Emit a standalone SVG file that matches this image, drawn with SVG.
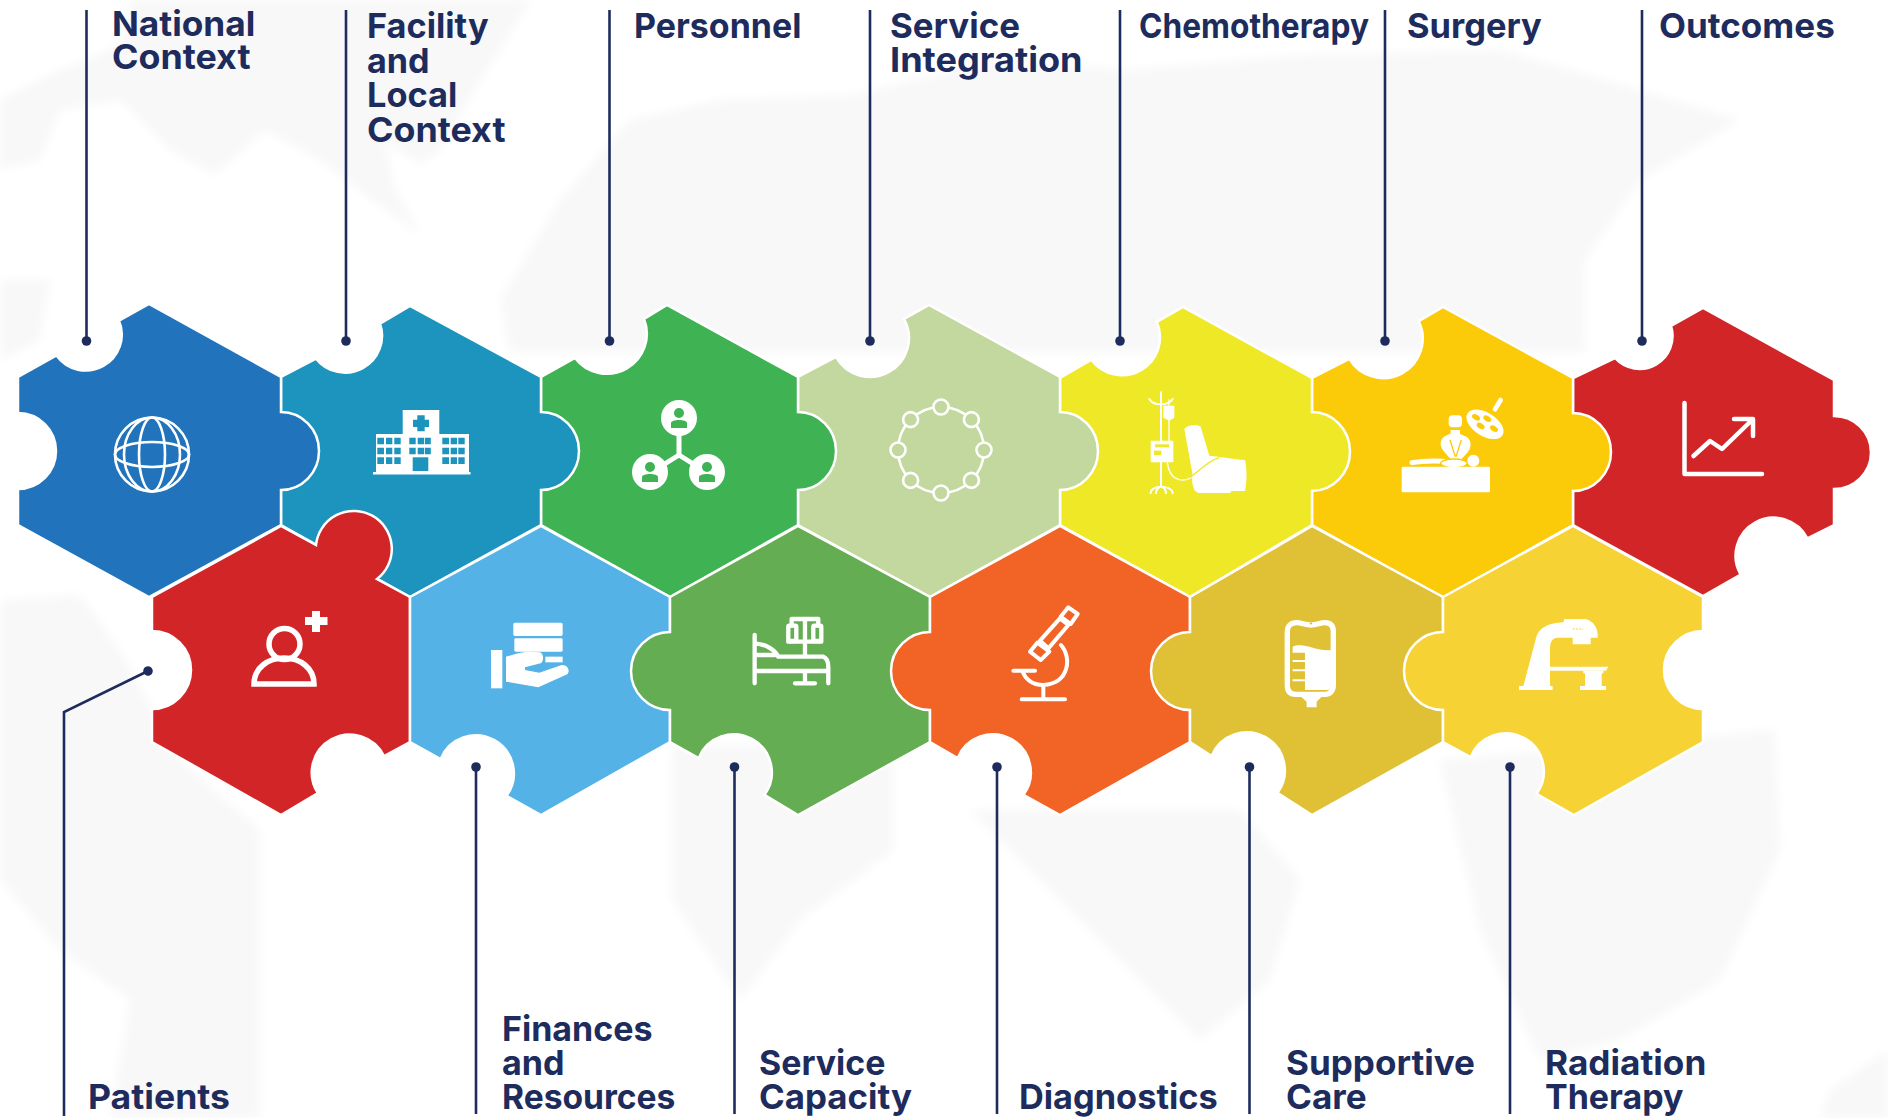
<svg xmlns="http://www.w3.org/2000/svg" width="1888" height="1118" viewBox="0 0 1888 1118">
<style>
.hex{stroke:#fff;stroke-width:2.5;stroke-linejoin:miter}
.f{fill:#fff}
.s{fill:none;stroke:#fff;stroke-linecap:round;stroke-linejoin:round}
.lab{font-family:"Inter","Liberation Sans",sans-serif;font-weight:700;font-size:34.5px;fill:#1d2c5c}
.c{fill:none;stroke:#1d2c5c;stroke-width:2.6;marker-end:url(#dot)}
.map{fill:#f8f8f9}
</style>
<defs>
<marker id="dot" markerUnits="userSpaceOnUse" markerWidth="12" markerHeight="12" refX="6" refY="6" orient="auto"><circle cx="6" cy="6" r="4.8" fill="#1d2c5c"/></marker>
<filter id="soft" x="-5%" y="-5%" width="110%" height="110%"><feGaussianBlur stdDeviation="5"/></filter>
</defs>
<rect width="1888" height="1118" fill="#fff"/>
<g id="world-map" filter="url(#soft)">
<path class="map" d="M0,100 L60,70 L120,45 L130,0 L530,0 L500,50 L475,90 L440,150 L420,165 L385,140 L395,190 L420,235 L365,195 L320,160 L265,130 L215,175 L170,150 L120,100 L60,110 L40,160 L0,170 Z"/>
<path class="map" d="M0,280 L50,280 L40,340 L0,360 Z"/>
<path class="map" d="M630,120 L720,100 L850,95 L1000,60 L1130,70 L1300,55 L1500,50 L1640,90 L1740,120 L1640,180 L1585,260 L1585,352 L1000,352 L620,352 L510,352 L500,300 L560,200 Z"/>
<path class="map" d="M0,600 L80,595 L120,650 L180,760 L260,830 L260,1118 L110,1118 L130,1000 L60,950 L0,880 Z"/>
<path class="map" d="M672,745 L893,745 L893,850 L800,920 L740,1000 L672,900 Z"/>
<path class="map" d="M970,810 L1240,810 L1300,880 L1270,980 L1200,1040 L1130,970 L1060,900 Z"/>
<path class="map" d="M1440,760 L1775,730 L1780,850 L1720,980 L1620,1040 L1540,1060 L1480,930 Z"/>
<path class="map" d="M1830,1090 L1888,1050 L1888,1118 L1820,1118 Z"/>
</g>

<g id="outcomes">
<path class="hex" fill="#d22527" d="M1573,378 L1615,358 A33,33 0 0 0 1671,326 L1703,308 L1834,380 L1834,416 A37,36.5 0 0 1 1834,489 L1834,525 L1807.4,538.4 A38,38 0 1 0 1740.6,574.6 L1703,596 L1573,525 Z"/>
<path class="s" stroke-width="4.5" d="M1684.5,403 V474 H1762"/>
<path class="s" stroke-width="4.5" d="M1693.5,456 L1710,441 L1722,449 L1752,420 M1734,419 H1753 V436"/>
<text class="lab" x="1659" y="38" textLength="175.8" lengthAdjust="spacingAndGlyphs">Outcomes</text>
</g>
<g id="surgery">
<path class="hex" fill="#fbcb0a" d="M1312,378 L1349.3,358.8 A39.5,39.5 0 0 0 1418.7,321.2 L1443,307 L1573,378 L1573,413 A38,39 0 0 1 1573,491 L1573,525 L1443,598 L1312,525 Z"/>
<g transform="translate(1390,390) scale(.3333)">
<path class="s" stroke-width="14" d="M315,58 L332,30"/>
<ellipse class="f" cx="285" cy="103" rx="62" ry="35" transform="rotate(32 285 103)"/>
<g fill="#fbcb0a"><ellipse cx="258" cy="82" rx="13" ry="8" transform="rotate(32 258 82)"/><ellipse cx="292" cy="86" rx="13" ry="8" transform="rotate(32 292 86)"/><ellipse cx="272" cy="108" rx="13" ry="8" transform="rotate(32 272 108)"/><ellipse cx="312" cy="116" rx="13" ry="8" transform="rotate(32 312 116)"/></g>
<rect class="f" x="176" y="76" width="40" height="36" rx="12"/>
<path class="f" d="M182,120 H210 V132 L232,142 C246,155 244,175 232,188 L212,210 H184 L160,182 C148,165 150,150 162,140 L182,130 Z"/>
<path d="M180,150 L196,200 M214,150 L198,200" fill="none" stroke="#fbcb0a" stroke-width="4"/>
<path class="s" stroke-width="15" d="M66,218 C100,212 130,212 160,214"/>
<ellipse class="f" cx="192" cy="220" rx="40" ry="13" stroke="#fbcb0a" stroke-width="4"/>
<circle class="f" cx="250" cy="212" r="18"/>
<rect class="f" x="35" y="230" width="265" height="77" rx="4"/>
</g>
<text class="lab" x="1407" y="38" textLength="134.8" lengthAdjust="spacingAndGlyphs">Surgery</text>
</g>
<g id="chemotherapy">
<path class="hex" fill="#efe827" d="M1060,378 L1091.4,359.7 A38,38 0 0 0 1156.8,321.9 L1183,307 L1312,378 L1312,412 A38,39.5 0 0 1 1312,491 L1312,525 L1190,597 L1060,525 Z"/>
<g transform="translate(1130,385) scale(.3333)">
<path class="s" stroke-width="6" d="M93,22 V305 M58,42 C65,55 80,58 93,58 C106,58 120,55 128,42 M62,325 C62,310 80,305 93,305 C106,305 128,310 128,325 M78,325 C78,315 85,305 93,305 C101,305 108,315 108,325"/>
<path class="s" stroke-width="4" d="M117,45 V60 M117,105 V170 M112,232 C118,290 165,300 200,265"/>
<path class="f" d="M100,62 L133,62 V98 L118,107 L100,98 Z"/>
<rect class="f" x="62" y="167" width="68" height="65" rx="3"/>
<rect x="75" y="178" width="42" height="9" fill="#efe827"/><rect x="72" y="197" width="22" height="13" fill="#efe827"/>
<path class="f" d="M163,132 C170,120 200,115 212,125 L238,212 C275,215 310,222 345,225 C352,255 350,295 345,318 L305,318 L300,324 L205,324 L195,318 C186,300 185,285 188,270 Z"/>
<path d="M180,278 C215,250 240,225 268,218" fill="none" stroke="#efe827" stroke-width="4"/>
</g>
<text class="lab" x="1139" y="38" textLength="230" lengthAdjust="spacingAndGlyphs">Chemotherapy</text>
</g>
<g id="service-integration">
<path class="hex" fill="#c3d89f" d="M798,377 L836,357 A37,37 0 0 0 904,319 L929,305 L1060,377 L1060,412 A38,39 0 0 1 1060,490 L1060,525 L930,597 L798,525 Z"/>
<circle class="s" cx="941" cy="450" r="43" stroke-width="2.5"/>
<g fill="#c3d89f" stroke="#fff" stroke-width="2.6">
<circle cx="941" cy="407" r="7.5"/><circle cx="971.4" cy="419.6" r="7.5"/><circle cx="984" cy="450" r="7.5"/><circle cx="971.4" cy="480.4" r="7.5"/><circle cx="941" cy="493" r="7.5"/><circle cx="910.6" cy="480.4" r="7.5"/><circle cx="898" cy="450" r="7.5"/><circle cx="910.6" cy="419.6" r="7.5"/>
</g>
<text class="lab" x="890" y="38" textLength="130" lengthAdjust="spacingAndGlyphs">Service</text>
<text class="lab" x="890" y="72" textLength="192.6" lengthAdjust="spacingAndGlyphs">Integration</text>
</g>
<g id="personnel">
<path class="hex" fill="#3fb254" d="M541,377 L575,358 A40,40 0 0 0 644,319 L667,305 L798,377 L798,412 A38,39 0 0 1 798,490 L798,525 L670,597 L541,525 Z"/>
<path class="s" stroke-width="5" d="M679,430 V455 L655,470 M679,455 L703,470"/>
<g class="f"><circle cx="679" cy="418" r="18"/><circle cx="650" cy="472" r="18"/><circle cx="707" cy="472" r="18"/></g>
<g fill="#3fb254">
<circle cx="679" cy="413" r="5"/><path d="M671,428 V423 C671,419 687,419 687,423 V428 Z"/>
<circle cx="650" cy="467" r="5"/><path d="M642,482 V477 C642,473 658,473 658,477 V482 Z"/>
<circle cx="707" cy="467" r="5"/><path d="M699,482 V477 C699,473 715,473 715,477 V482 Z"/>
</g>
<text class="lab" x="634" y="38" textLength="167.4" lengthAdjust="spacingAndGlyphs">Personnel</text>
</g>
<g id="facility-local-context">
<path class="hex" fill="#1c94be" d="M281,377 L316,358.6 A37,37 0 0 0 380,323.6 L410,306 L541,377 L541,412 A38,39 0 0 1 541,490 L541,525 L410,597 L281,525 Z"/>
<path class="f" d="M402.7,410 H439.3 V434 H469 V472 H470.5 V474.5 H373 V472 H376 V434 H402.7 Z"/>
<g fill="#1c94be">
<path d="M417.3,415.3 H424.7 V419.7 H429 V427 H424.7 V431.3 H417.3 V427 H413 V419.7 H417.3 Z"/>
<path d="M377.3,437.7h6.7v6.6h-6.7zM386,437.7h6.3v6.6H386zM394.3,437.7h6.4v6.6h-6.4zM377.3,447.7h6.7v6.6h-6.7zM386,447.7h6.3v6.6H386zM394.3,447.7h6.4v6.6h-6.4zM377.3,457.3h6.7V464h-6.7zM386,457.3h6.3V464H386zM394.3,457.3h6.4V464h-6.4z"/>
<path d="M409.3,437.7h6.4v6.6h-6.4zM417.7,437.7h6.3v6.6h-6.3zM424.8,437.7h6v6.6h-6zM409.3,447.7h6.4v6.6h-6.4zM417.7,447.7h6.3v6.6h-6.3zM424.8,447.7h6v6.6h-6z"/>
<path d="M442.3,437.7h6.7v6.6h-6.7zM450.7,437.7h6.3v6.6h-6.3zM458.3,437.7h6.4v6.6h-6.4zM442.3,447.7h6.7v6.6h-6.7zM450.7,447.7h6.3v6.6h-6.3zM458.3,447.7h6.4v6.6h-6.4zM442.3,457.3h6.7V464h-6.7zM450.7,457.3h6.3V464h-6.3zM458.3,457.3h6.4V464h-6.4z"/>
<rect x="412.7" y="457.3" width="15.6" height="13.7"/>
</g>
<text class="lab" x="367" y="38" textLength="121.6" lengthAdjust="spacingAndGlyphs">Facility</text>
<text class="lab" x="367" y="72.5" textLength="62.6" lengthAdjust="spacingAndGlyphs">and</text>
<text class="lab" x="367" y="107" textLength="90.3" lengthAdjust="spacingAndGlyphs">Local</text>
<text class="lab" x="367" y="141.5" textLength="138.5" lengthAdjust="spacingAndGlyphs">Context</text>
</g>
<g id="national-context">
<path class="hex" fill="#2174bb" d="M18,377 L56.5,355.5 A36,36 0 0 0 119,320.7 L149,304 L281,377 L281,412 A38,39 0 0 1 281,490 L281,525 L149,597 L18,525 L18,489 A38,38 0 0 0 18,413 Z"/>
<g class="s" stroke-width="2.6">
<circle cx="152" cy="454.5" r="37"/><ellipse cx="152" cy="454.5" rx="13" ry="37"/><ellipse cx="152" cy="454.5" rx="28" ry="37"/><ellipse cx="152" cy="454.5" rx="37" ry="12.5"/>
</g>
<text class="lab" x="112" y="36" textLength="143.3" lengthAdjust="spacingAndGlyphs">National</text>
<text class="lab" x="112" y="69" textLength="138.5" lengthAdjust="spacingAndGlyphs">Context</text>
</g>

<g id="patients">
<path class="hex" fill="#d22527" d="M152,597 L281,526 L316,545 A38,38 0 1 1 377,579 L410,597 L410,742 L384.1,756.2 A38,38 0 1 0 317.9,793.2 L281,815 L152,742 L152,709 A39,39 0 0 0 152,631 Z"/>
<circle class="s" cx="284.5" cy="644" r="15.5" stroke-width="5.5"/>
<path class="s" stroke-width="5.5" d="M254,684 H314 C314,668 300,658 284,658 C268,658 254,668 254,684 Z" style="stroke-linejoin:miter"/>
<path class="f" d="M312,611 H320 V617 H327.5 V625 H320 V632 H312 V625 H305 V617 H312 Z"/>
<text class="lab" x="88" y="1109" textLength="142" lengthAdjust="spacingAndGlyphs">Patients</text>
</g>
<g id="finances-resources">
<path class="hex" fill="#55b2e6" d="M410,597 L541,526 L670,597 L670,742 L541,815 L506.4,795.9 A38,38 0 1 0 440.6,759.1 L410,742 Z"/>
<g transform="translate(480,605) scale(.3333)">
<rect class="f" x="100" y="53" width="148" height="40" rx="5"/><rect class="f" x="103" y="100" width="145" height="40" rx="4"/><rect class="f" x="196" y="155" width="52" height="17"/>
<rect class="f" x="33" y="135" width="34" height="115"/>
<path class="f" d="M78,155 C100,150 120,140 150,140 L180,142 C192,146 192,170 182,175 L135,187 L135,195 L178,203 L245,180 C262,178 272,196 262,208 L175,247 L78,230 Z"/>
</g>
<text class="lab" x="502" y="1040.5" textLength="150.5" lengthAdjust="spacingAndGlyphs">Finances</text>
<text class="lab" x="502" y="1075" textLength="62.6" lengthAdjust="spacingAndGlyphs">and</text>
<text class="lab" x="502" y="1109" textLength="173.4" lengthAdjust="spacingAndGlyphs">Resources</text>
</g>
<g id="service-capacity">
<path class="hex" fill="#64ad52" d="M670,597 L798,526 L930,597 L930,742 L798,815 L764.4,794.9 A38,38 0 1 0 698.6,758.1 L670,742 L670,710 A39,39 0 0 1 670,632 Z"/>
<g class="s" stroke-width="13" transform="translate(480,605) scale(.3333)">
<path d="M824,90 V235 M824,115 C860,118 885,135 895,155 H1030 C1042,160 1045,170 1045,185 V235 M824,150 H885 M824,198 H1045 M975,198 V235 M945,235 H1005 M975,155 V42 M935,62 V42 H1015 V62"/>
<rect x="925" y="62" width="24" height="46" rx="3"/><rect x="1000" y="62" width="24" height="46" rx="3"/><path d="M925,110 H1024"/>
</g>
<text class="lab" x="759" y="1075" textLength="126.4" lengthAdjust="spacingAndGlyphs">Service</text>
<text class="lab" x="759" y="1109" textLength="153" lengthAdjust="spacingAndGlyphs">Capacity</text>
</g>
<g id="diagnostics">
<path class="hex" fill="#f16426" d="M930,597 L1060,526 L1190,597 L1190,742 L1060,815 L1023.4,794.9 A38,38 0 1 0 957.6,758.1 L930,742 L930,710 A39,39 0 0 1 930,632 Z"/>
<g class="s" stroke-width="12" transform="translate(1000,600) scale(.3333)">
<path d="M205,22 L233,42 L212,72 L182,50 Z M180,55 L205,75 L145,145 L120,122 Z M112,128 L148,155 L122,180 L90,155 Z"/>
<path d="M183,135 C215,170 210,250 130,255 C95,255 75,235 68,215 M40,212 H105 M130,255 V298 M65,298 H195"/>
</g>
<text class="lab" x="1019" y="1109" textLength="198.7" lengthAdjust="spacingAndGlyphs">Diagnostics</text>
</g>
<g id="supportive-care">
<path class="hex" fill="#e0c136" d="M1190,597 L1312,526 L1443,597 L1443,742 L1312,815 L1277.4,792.9 A38,38 0 1 0 1211.6,756.1 L1190,742 L1190,710 A39,39 0 0 1 1190,632 Z"/>
<g transform="translate(1000,600) scale(.3333)">
<path class="s" stroke-width="16" d="M890,68 C905,68 915,75 933,75 C951,75 960,68 975,68 C993,68 1000,78 1000,95 V255 C1000,273 990,283 975,283 H887 C870,283 862,273 862,255 V95 C862,78 872,68 890,68 Z"/>
<circle cx="933" cy="70" r="3.5" fill="#e0c136"/>
<path class="f" d="M878,140 C910,125 950,155 993,150 V260 C993,268 988,270 980,270 H915 V244 H878 V238 H915 V214 H878 V208 H915 V186 H878 V180 H915 V158 H878 Z"/>
<path class="f" d="M903,290 H965 L950,305 V322 H920 V305 Z"/>
</g>
<text class="lab" x="1286" y="1075" textLength="189" lengthAdjust="spacingAndGlyphs">Supportive</text>
<text class="lab" x="1286" y="1109" textLength="80.7" lengthAdjust="spacingAndGlyphs">Care</text>
</g>
<g id="radiation-therapy">
<path class="hex" fill="#f6d234" d="M1443,597 L1573,526 L1703,597 L1703,631 A39,39 0 0 0 1703,709 L1703,742 L1574,815 L1536.4,793.9 A38,38 0 1 0 1470.6,757.1 L1443,742 L1443,710 A39,39 0 0 1 1443,632 Z"/>
<g transform="translate(1500,605) scale(.3333)">
<path class="f" d="M70,243 L108,100 C115,70 140,55 190,52 L193,42 H258 C285,50 295,75 293,98 H272 V118 H218 V98 H170 C155,100 150,115 150,130 V185 H325 L318,197 H150 V243 H158 V255 H57 V243 Z"/>
<path class="f" d="M250,197 H310 V205 H305 V243 H318 V255 H240 V243 H255 V205 H250 Z"/>
<path d="M218,72 H250" stroke="#f6d234" stroke-width="3" stroke-dasharray="6 4" fill="none"/>
</g>
<text class="lab" x="1545" y="1075" textLength="161.3" lengthAdjust="spacingAndGlyphs">Radiation</text>
<text class="lab" x="1545" y="1109" textLength="138.5" lengthAdjust="spacingAndGlyphs">Therapy</text>
</g>

<g id="connectors">
<path class="c" d="M86.5,10 V341"/>
<path class="c" d="M346,10 V341"/>
<path class="c" d="M609.5,10 V341"/>
<path class="c" d="M870,10 V341"/>
<path class="c" d="M1120,10 V341"/>
<path class="c" d="M1385,10 V341"/>
<path class="c" d="M1642,10 V341"/>
<path class="c" d="M64,1116 V712 L148,671"/>
<path class="c" d="M476,1114 V767"/>
<path class="c" d="M734.5,1114 V767"/>
<path class="c" d="M997,1114 V767"/>
<path class="c" d="M1249.5,1114 V767"/>
<path class="c" d="M1510,1114 V767"/>
</g>
</svg>
